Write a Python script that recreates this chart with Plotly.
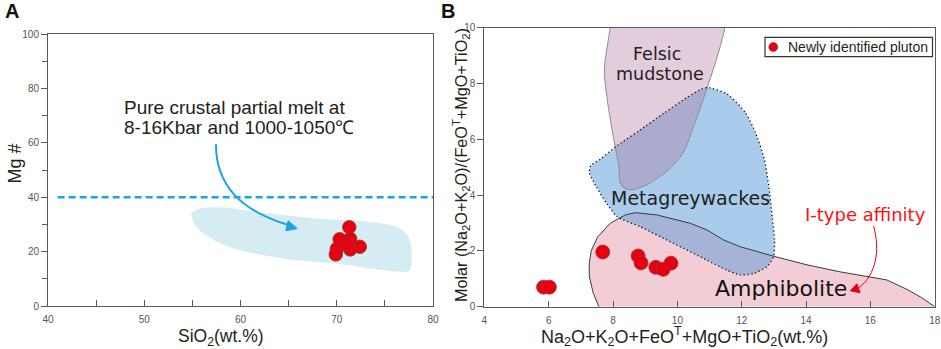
import plotly.graph_objects as go

# ---------------- Panel A data ----------------
a_sio2 = [71.3, 70.3, 71.4, 72.4, 71.4, 70.0, 69.9, 71.1]
a_mg = [29.0, 24.6, 24.7, 21.8, 20.8, 21.0, 19.0, 22.8]
a_field_x = [54.9, 55.8, 57.9, 62.7, 67.9, 74.8, 76.6, 77.6, 77.8, 77.6, 76.6, 69.6, 64.4, 59.3, 57.2, 55.4]
a_field_y = [34.1, 35.9, 36.3, 34.1, 32.2, 30.4, 28.6, 24.3, 19.4, 13.2, 12.6, 15.7, 17.5, 21.2, 24.3, 29.2]
a_mg_limit = 40
a_limit_x = [41, 80]
a_xticks = [40, 50, 60, 70, 80]
a_yticks = [0, 20, 40, 60, 80, 100]
# curved arrow (start, ctrl1, ctrl2, end) and arrowhead
a_arrow_curve = [(57.45, 59.5), (57.45, 44.5), (59.95, 35.3), (64.9, 29.9)]
a_arrow_head = [(65.9, 28.5), (64.95, 31.4), (64.7, 27.7)]

# ---------------- Panel B data ----------------
b_x = [5.84, 6.02, 7.68, 8.78, 8.87, 9.33, 9.56, 9.80]
b_y = [0.70, 0.70, 1.96, 1.82, 1.57, 1.41, 1.34, 1.56]
felsic_x = [7.96, 7.91, 7.75, 7.73, 7.86, 8.03, 8.17, 8.22, 8.38, 8.63, 9.10, 9.72, 10.20, 10.50, 10.84, 11.10, 11.30, 11.48, 11.54]
felsic_y = [10.6, 10.0, 8.8, 8.3, 7.1, 5.95, 5.1, 4.45, 4.22, 4.19, 4.40, 4.90, 5.55, 6.45, 7.55, 8.45, 9.2, 10.0, 10.6]
meta_x = [10.95, 11.55, 12.12, 12.44, 12.70, 12.85, 12.95, 13.02, 12.99, 12.78, 12.37, 11.95, 11.54, 10.92, 9.88, 8.84, 8.12, 7.80, 7.48, 7.27, 7.30, 7.62, 8.10, 8.80, 9.60, 10.30, 10.75]
meta_y = [7.86, 7.62, 6.95, 6.20, 5.30, 4.25, 3.20, 2.39, 1.79, 1.43, 1.19, 1.14, 1.31, 1.67, 2.27, 2.87, 3.23, 3.70, 4.30, 4.78, 5.05, 5.30, 5.75, 6.30, 6.95, 7.50, 7.80]
amph_x = [7.56, 7.38, 7.26, 7.26, 7.32, 7.52, 7.91, 8.38, 8.70, 9.36, 10.40, 10.92, 11.44, 11.95, 12.99, 14.03, 15.06, 16.51, 17.14, 17.60, 17.85, 18.0]
amph_y = [0.0, 0.50, 1.10, 1.55, 2.00, 2.50, 2.99, 3.29, 3.37, 3.29, 2.99, 2.75, 2.39, 2.15, 1.81, 1.50, 1.25, 0.96, 0.62, 0.32, 0.12, 0.0]
b_xticks = [4, 6, 8, 10, 12, 14, 16, 18]
b_yticks = [0, 2, 4, 6, 8, 10]
b_arrow_curve = [(16.10, 2.89), (16.31, 2.03), (16.18, 1.14), (15.64, 0.68)]
b_arrow_head = [(15.38, 0.57), (15.58, 0.82), (15.68, 0.50)]
legend_label = "Newly identified pluton"

ARIAL = "Liberation Sans, Arial, sans-serif"
DEJAVU = "DejaVu Sans, sans-serif"
TXT = "#231F20"
AX = "#5a5a5a"
RED = "#E60012"
CYAN = "#1BA5E0"

fig = go.Figure()

def close(v):
    return list(v) + [v[0]]

# Panel A field
fig.add_trace(go.Scatter(x=close(a_field_x), y=close(a_field_y), mode="lines", fill="toself",
                         fillcolor="#D5ECF3", line=dict(width=0, shape="spline", smoothing=0.8),
                         hoverinfo="skip", showlegend=False, xaxis="x", yaxis="y"))
fig.add_trace(go.Scatter(x=a_limit_x, y=[a_mg_limit, a_mg_limit], mode="lines",
                         line=dict(color=CYAN, width=2.6, dash="7px,4px"),
                         hoverinfo="skip", showlegend=False, xaxis="x", yaxis="y"))
fig.add_trace(go.Scatter(x=a_sio2, y=a_mg, mode="markers",
                         marker=dict(size=13.5, color=RED, line=dict(color="#9A3A2A", width=0.8)),
                         showlegend=False, xaxis="x", yaxis="y"))

# Panel B fields: amphibolite (base), metagreywackes (semi), felsic (semi)
fig.add_trace(go.Scatter(x=close(amph_x), y=close(amph_y), mode="lines", fill="toself",
                         fillcolor="#F3CDD5", line=dict(width=0),
                         hoverinfo="skip", showlegend=False, xaxis="x2", yaxis="y2"))
fig.add_trace(go.Scatter(x=close(meta_x), y=close(meta_y), mode="lines", fill="toself",
                         fillcolor="rgba(85,153,217,0.5)", line=dict(width=0, shape="spline", smoothing=0.6),
                         hoverinfo="skip", showlegend=False, xaxis="x2", yaxis="y2"))
fig.add_trace(go.Scatter(x=close(felsic_x), y=close(felsic_y), mode="lines", fill="toself",
                         fillcolor="rgba(175,109,152,0.35)", line=dict(width=0, shape="spline", smoothing=0.6),
                         hoverinfo="skip", showlegend=False, xaxis="x2", yaxis="y2"))
# outlines
fig.add_trace(go.Scatter(x=felsic_x, y=felsic_y, mode="lines",
                         line=dict(color="#8C8C8C", width=1, shape="spline", smoothing=0.6),
                         hoverinfo="skip", showlegend=False, xaxis="x2", yaxis="y2"))
fig.add_trace(go.Scatter(x=amph_x, y=amph_y, mode="lines",
                         line=dict(color="#3a3a3a", width=1),
                         hoverinfo="skip", showlegend=False, xaxis="x2", yaxis="y2"))
fig.add_trace(go.Scatter(x=close(meta_x), y=close(meta_y), mode="lines",
                         line=dict(color="#111111", width=1.3, dash="1.3px,2.6px", shape="spline", smoothing=0.6),
                         hoverinfo="skip", showlegend=False, xaxis="x2", yaxis="y2"))
fig.add_trace(go.Scatter(x=b_x, y=b_y, mode="markers", name=legend_label,
                         marker=dict(size=14, color=RED, line=dict(color="#9A3A2A", width=0.8)),
                         showlegend=False, xaxis="x2", yaxis="y2"))

def bezier_path(pts):
    (x0, y0), (x1, y1), (x2, y2), (x3, y3) = pts
    return f"M {x0},{y0} C {x1},{y1} {x2},{y2} {x3},{y3}"

def tri_path(pts):
    return "M " + " L ".join(f"{x},{y}" for x, y in pts) + " Z"

W, H = 941, 349
def px(xp): return xp / W
def py(yp): return 1 - yp / H

shapes = [
    dict(type="path", path=bezier_path(a_arrow_curve), xref="x", yref="y",
         line=dict(color=CYAN, width=2)),
    dict(type="path", path=tri_path(a_arrow_head), xref="x", yref="y",
         line=dict(color=CYAN, width=1), fillcolor=CYAN),
    dict(type="path", path=bezier_path(b_arrow_curve), xref="x2", yref="y2",
         line=dict(color=RED, width=1)),
    dict(type="path", path=tri_path(b_arrow_head), xref="x2", yref="y2",
         line=dict(color=RED, width=1), fillcolor=RED),
    # legend box and symbol
    dict(type="rect", xref="paper", yref="paper", x0=px(765), x1=px(932.5), y0=py(56.7), y1=py(37.3),
         line=dict(color="#333", width=1.2), fillcolor="white"),
    dict(type="circle", xref="paper", yref="paper", x0=px(768.8), x1=px(777.8), y0=py(51.5), y1=py(42.5),
         line=dict(color="#9A3A2A", width=0.6), fillcolor=RED),
]

annotations = [
    dict(text="<b>A</b>", x=px(3), y=py(11), xref="paper", yref="paper", xanchor="left", yanchor="middle",
         showarrow=False, font=dict(family=ARIAL, size=20, color="#111")),
    dict(text="<b>B</b>", x=px(439), y=py(11), xref="paper", yref="paper", xanchor="left", yanchor="middle",
         showarrow=False, font=dict(family=ARIAL, size=20, color="#111")),
    dict(text="Mg #", x=px(14.5), y=py(164), xref="paper", yref="paper", textangle=-90,
         xanchor="center", yanchor="middle", showarrow=False, font=dict(family=ARIAL, size=18, color=TXT)),
    dict(text="SiO<sub>2</sub>(wt.%)", x=px(221), y=py(337), xref="paper", yref="paper",
         xanchor="center", yanchor="middle", showarrow=False, font=dict(family=ARIAL, size=17.5, color=TXT)),
    dict(text="Pure crustal partial melt at", x=47.7, y=73.0, xref="x", yref="y",
         xanchor="left", yanchor="middle", showarrow=False, font=dict(family=ARIAL, size=19, color=TXT)),
    dict(text="8-16Kbar and 1000-1050℃", x=47.7, y=65.8, xref="x", yref="y",
         xanchor="left", yanchor="middle", showarrow=False, font=dict(family=ARIAL, size=19, color=TXT)),
    dict(text="Molar (Na<sub>2</sub>O+K<sub>2</sub>O)/(FeO<sup>T</sup>+MgO+TiO<sub>2</sub>)",
         x=px(461), y=py(165), xref="paper", yref="paper", textangle=-90,
         xanchor="center", yanchor="middle", showarrow=False, font=dict(family=ARIAL, size=16.2, color=TXT)),
    dict(text="Na<sub>2</sub>O+K<sub>2</sub>O+FeO<sup>T</sup>+MgO+TiO<sub>2</sub>(wt.%)",
         x=px(684), y=py(336), xref="paper", yref="paper",
         xanchor="center", yanchor="middle", showarrow=False, font=dict(family=ARIAL, size=18, color=TXT)),
    dict(text="Felsic", x=9.38, y=9.04, xref="x2", yref="y2", showarrow=False,
         font=dict(family=DEJAVU, size=17.5, color=TXT)),
    dict(text="mudstone", x=9.46, y=8.35, xref="x2", yref="y2", showarrow=False,
         font=dict(family=DEJAVU, size=17.5, color=TXT)),
    dict(text="Metagreywackes", x=10.40, y=3.91, xref="x2", yref="y2", showarrow=False,
         font=dict(family=DEJAVU, size=19, color=TXT)),
    dict(text="Amphibolite", x=13.23, y=0.67, xref="x2", yref="y2", showarrow=False,
         font=dict(family=DEJAVU, size=22, color="#111")),
    dict(text="I-type affinity", x=15.86, y=3.30, xref="x2", yref="y2", showarrow=False,
         font=dict(family=DEJAVU, size=18, color="#FF1010")),
    dict(text=legend_label, x=px(786), y=py(47), xref="paper", yref="paper", xanchor="left",
         yanchor="middle", showarrow=False, font=dict(family=ARIAL, size=14, color=TXT)),
]

axis_common = dict(showgrid=False, zeroline=False, showline=True, mirror=True, linecolor=AX,
                   linewidth=1, tickcolor=AX, tickwidth=1, ticklen=6, automargin=False,
                   tickfont=dict(family=ARIAL, size=10, color="#555"))

fig.update_layout(
    width=W, height=H, autosize=False,
    margin=dict(l=0, r=0, t=0, b=0, pad=0),
    paper_bgcolor="white", plot_bgcolor="white", showlegend=False,
    xaxis=dict(domain=[px(48), px(433)], range=[40, 80], tickvals=a_xticks, ticks="inside",
               minor=dict(dtick=5, ticks="inside", ticklen=6, tickcolor=AX),
               anchor="y", ticklabelstandoff=4, **axis_common),
    yaxis=dict(domain=[py(306), py(34.3)], range=[0, 100], tickvals=a_yticks, ticks="outside",
               minor=dict(dtick=10, ticks="outside", ticklen=5, tickcolor=AX),
               anchor="x", **axis_common),
    xaxis2=dict(domain=[px(484.4), px(934.7)], range=[4, 18], tickvals=b_xticks, ticks="inside",
                anchor="y2", ticklabelstandoff=4, **axis_common),
    yaxis2=dict(domain=[py(306.7), py(27.7)], range=[0, 10], tickvals=b_yticks, ticks="outside",
                anchor="x2", **axis_common),
    shapes=shapes, annotations=annotations,
)

fig.write_html("out.html", config={"displayModeBar": False},
               post_script="document.body.style.margin='0';document.body.style.padding='0';"
                           "document.documentElement.style.overflow='hidden';")
